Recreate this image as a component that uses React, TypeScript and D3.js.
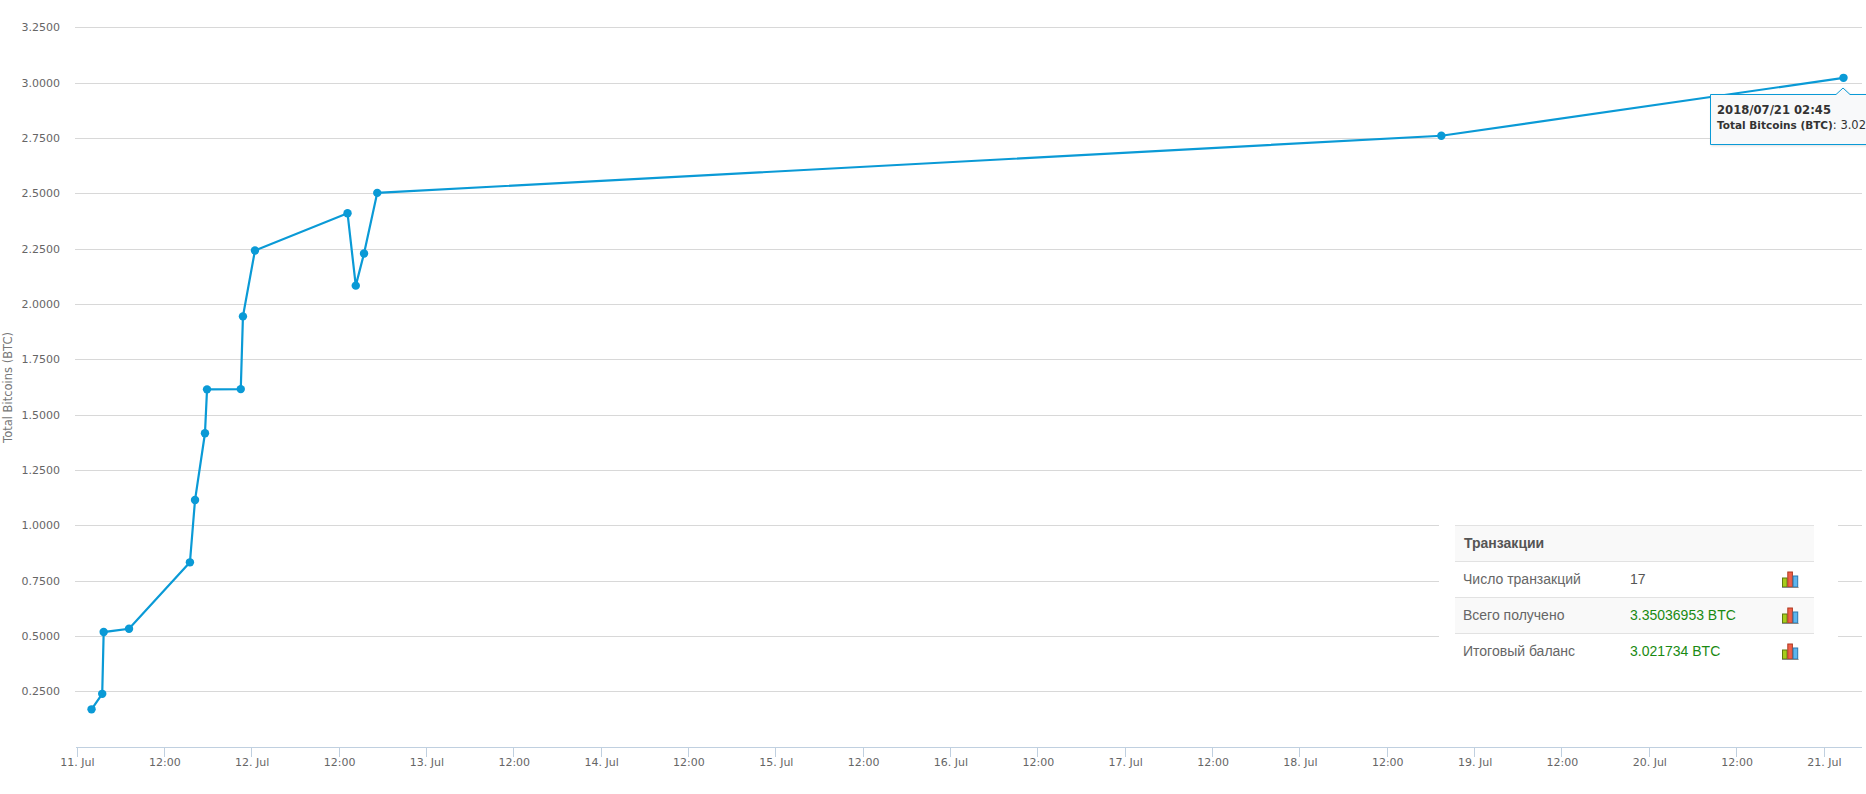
import { useEffect, useRef } from "react";
import * as d3 from "d3";

const times = [
  "2018-07-11T02:04", "2018-07-11T03:32", "2018-07-11T03:44", "2018-07-11T07:13",
  "2018-07-11T15:35", "2018-07-11T16:17", "2018-07-11T17:39", "2018-07-11T17:56",
  "2018-07-11T22:34", "2018-07-11T22:52", "2018-07-12T00:31", "2018-07-12T13:14",
  "2018-07-12T14:22", "2018-07-12T15:30", "2018-07-12T17:19", "2018-07-18T19:30",
  "2018-07-21T02:45",
];
const balances = [
  0.169, 0.239, 0.518, 0.533, 0.833, 1.1145, 1.416, 1.6145, 1.6155, 1.944, 2.242,
  2.41, 2.083, 2.228, 2.502, 2.76, 3.0217,
];
const tickDays = ["11", "12", "13", "14", "15", "16", "17", "18", "19", "20", "21"];
const yTicks = [0.25, 0.5, 0.75, 1, 1.25, 1.5, 1.75, 2, 2.25, 2.5, 2.75, 3, 3.25];
const tableRows = [
  ["Число транзакций", "17"],
  ["Всего получено", "3.35036953 BTC"],
  ["Итоговый баланс", "3.021734 BTC"],
];
const iconHeights = [9, 15, 11];
const iconColors = ["#a6cc1c", "#f0604a", "#5db5ee"];
const iconStrokes = ["#5d7a10", "#b03a20", "#2a78b0"];

const chartFont = "'DejaVu Sans', sans-serif";
const tableFont = "'Liberation Sans', Arial, sans-serif";

export default function App() {
  const ref = useRef<SVGSVGElement>(null);

  useEffect(() => {
    const svg = d3.select(ref.current);
    svg.selectAll("*").remove();

    const x = d3.scaleUtc()
      .domain([new Date("2018-07-11T00:00Z"), new Date("2018-07-21T00:00Z")])
      .range([76.5, 1823.5]);
    const y = d3.scaleLinear().domain([0.25, 3.25]).range([691.4, 27.3]);

    const grid = svg.append("g");
    yTicks.forEach((t) => {
      grid.append("line")
        .attr("x1", 75).attr("x2", 1862)
        .attr("y1", Math.round(y(t)) + 0.5).attr("y2", Math.round(y(t)) + 0.5)
        .attr("stroke", "#d8d8d8");
      grid.append("text")
        .attr("x", 60).attr("y", y(t) + 4)
        .attr("text-anchor", "end")
        .attr("fill", "#666")
        .style("font-family", chartFont)
        .style("font-size", "11px")
        .text(t.toFixed(4));
    });

    svg.append("text")
      .attr("transform", "translate(12,387.5) rotate(-90)")
      .attr("text-anchor", "middle")
      .attr("fill", "#777")
      .style("font-family", chartFont)
      .style("font-size", "11.5px")
      .text("Total Bitcoins (BTC)");

    const axis = svg.append("g");
    axis.append("line")
      .attr("x1", 76).attr("x2", 1862)
      .attr("y1", 747.5).attr("y2", 747.5)
      .attr("stroke", "#c0d0e0");

    const addTick = (when: Date, label: string) => {
      const px = Math.round(x(when)) + 0.5;
      axis.append("line")
        .attr("x1", px).attr("x2", px)
        .attr("y1", 747).attr("y2", 757)
        .attr("stroke", "#c0d0e0");
      axis.append("text")
        .attr("x", x(when) + 1).attr("y", 766)
        .attr("text-anchor", "middle")
        .attr("fill", "#666")
        .style("font-family", chartFont)
        .style("font-size", "11px")
        .text(label);
    };
    tickDays.forEach((d, i) => {
      addTick(new Date(Date.UTC(2018, 6, 11 + i)), `${d}. Jul`);
      if (i < tickDays.length - 1) {
        addTick(new Date(Date.UTC(2018, 6, 11 + i, 12)), "12:00");
      }
    });

    // table sits over the chart grid
    const tbl = svg.append("g").style("font-family", tableFont);
    tbl.append("rect").attr("x", 1439).attr("y", 520).attr("width", 399).attr("height", 160).attr("fill", "#fff");
    tbl.append("rect").attr("x", 1455).attr("y", 525).attr("width", 359).attr("height", 36).attr("fill", "#f9f9f9");
    tbl.append("rect").attr("x", 1455).attr("y", 597).attr("width", 359).attr("height", 36).attr("fill", "#f9f9f9");
    [525, 561, 597, 633].forEach((ly) => {
      tbl.append("line")
        .attr("x1", 1455).attr("x2", 1814)
        .attr("y1", ly + 0.5).attr("y2", ly + 0.5)
        .attr("stroke", "#e2e2e2");
    });
    tbl.append("text")
      .attr("x", 1464).attr("y", 548)
      .attr("fill", "#555")
      .style("font-size", "14px")
      .style("font-weight", 700)
      .text("Транзакции");
    tableRows.forEach((r, i) => {
      const ty = 584 + i * 36;
      tbl.append("text").attr("x", 1463).attr("y", ty).attr("fill", "#666").style("font-size", "14px").text(r[0]);
      tbl.append("text").attr("x", 1630).attr("y", ty)
        .attr("fill", i === 0 ? "#555" : "#1a8a12").style("font-size", "14px").text(r[1]);
      const icon = tbl.append("g").attr("transform", `translate(1782,${ty - 12})`);
      iconHeights.forEach((h, k) => {
        icon.append("rect")
          .attr("x", k * 5.3 + 0.5).attr("y", 15 - h)
          .attr("width", 4.6).attr("height", h)
          .attr("fill", iconColors[k])
          .attr("stroke", iconStrokes[k]);
      });
      icon.append("line")
        .attr("x1", 0).attr("x2", 16.5).attr("y1", 15.5).attr("y2", 15.5)
        .attr("stroke", "#888");
    });

    const points = times.map((s, i) => ({ t: new Date(s + "Z"), v: balances[i] }));
    const line = d3.line<{ t: Date; v: number }>().x((d) => x(d.t)).y((d) => y(d.v));
    svg.append("path")
      .attr("d", line(points))
      .attr("fill", "none")
      .attr("stroke", "#0a9ad6")
      .attr("stroke-width", 2.2);
    svg.append("g").selectAll("circle")
      .data(points)
      .enter()
      .append("circle")
      .attr("cx", (d) => x(d.t))
      .attr("cy", (d) => y(d.v))
      .attr("r", 4.2)
      .attr("fill", "#0a9ad6");

    // tooltip, runs off the right edge like in the screenshot
    const tip = svg.append("g");
    tip.append("path")
      .attr("d", "M1710.5,144.5 V94.5 H1836 L1843,88 L1850,94.5 H1880 V144.5 Z")
      .attr("fill", "#f8f9fa")
      .attr("stroke", "#0a9ad6")
      .style("filter", "drop-shadow(1px 1px 1px rgba(0,0,0,0.12))");
    tip.append("text")
      .attr("x", 1717).attr("y", 114)
      .attr("fill", "#333")
      .style("font-family", chartFont)
      .style("font-size", "11.6px")
      .style("font-weight", 700)
      .text("2018/07/21 02:45");
    const tipLine = tip.append("text")
      .attr("x", 1717).attr("y", 129)
      .attr("fill", "#333")
      .style("font-family", chartFont)
      .style("font-size", "10.5px");
    tipLine.append("tspan").style("font-weight", 700).text("Total Bitcoins (BTC)");
    tipLine.append("tspan").style("font-size", "11.5px").text(": 3.021734");
  }, []);

  return (
    <svg
      ref={ref}
      width={1866}
      height={794}
      style={{ position: "absolute", left: 0, top: 0, background: "#fff" }}
    />
  );
}
